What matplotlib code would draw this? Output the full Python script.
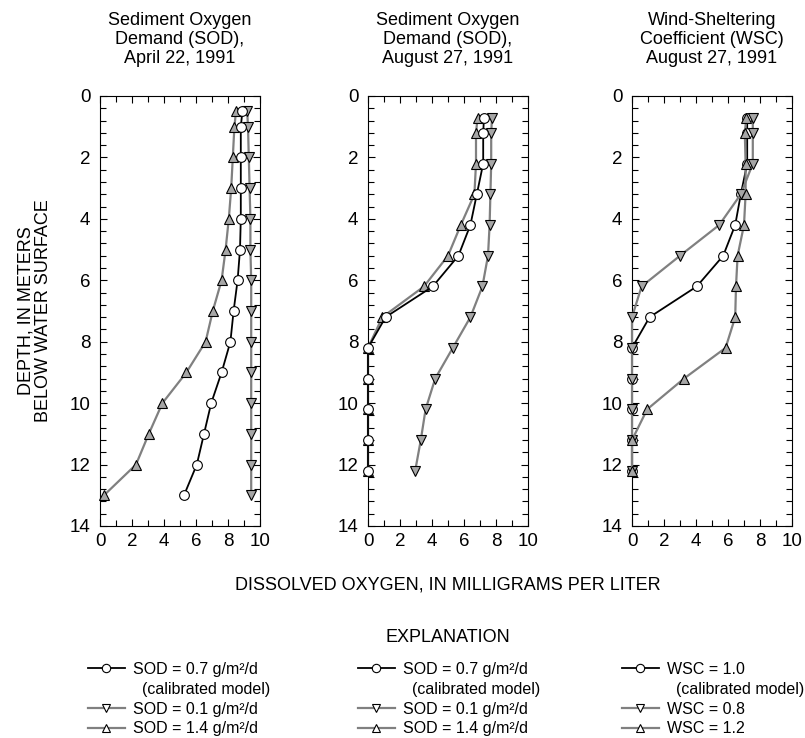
import matplotlib
matplotlib.use('Agg')
import matplotlib.pyplot as plt
from matplotlib.lines import Line2D
from matplotlib.ticker import MultipleLocator

plt.rcParams['font.family'] = ['Liberation Sans', 'DejaVu Sans']

# Depths (m below water surface)
depth_apr = [0.5, 1, 2, 3, 4, 5, 6, 7, 8, 9, 10, 11, 12, 13]
depth_aug = [0.7, 1.2, 2.2, 3.2, 4.2, 5.2, 6.2, 7.2, 8.2, 9.2, 10.2, 11.2, 12.2]

# April 22, 1991 - SOD runs (dissolved oxygen, mg/L)
apr_sod_07 = [8.9, 8.8, 8.8, 8.8, 8.8, 8.75, 8.6, 8.35, 8.15, 7.6, 6.95, 6.5, 6.05, 5.25]
apr_sod_01 = [9.2, 9.25, 9.3, 9.35, 9.4, 9.4, 9.45, 9.45, 9.45, 9.45, 9.45, 9.45, 9.45, 9.45]
apr_sod_14 = [8.5, 8.4, 8.3, 8.2, 8.05, 7.85, 7.6, 7.05, 6.6, 5.4, 3.9, 3.05, 2.25, 0.25]

# August 27, 1991 - SOD runs
aug_sod_07 = [7.25, 7.2, 7.2, 6.8, 6.4, 5.65, 4.05, 1.1, 0, 0, 0, 0, 0]
aug_sod_01 = [7.75, 7.7, 7.7, 7.65, 7.6, 7.5, 7.15, 6.4, 5.3, 4.2, 3.6, 3.3, 2.95]
aug_sod_14 = [6.85, 6.75, 6.75, 6.65, 5.8, 5.0, 3.5, 0.9, 0, 0, 0, 0, 0]

# August 27, 1991 - wind-sheltering coefficient runs
aug_wsc_10 = [7.2, 7.2, 7.2, 6.8, 6.45, 5.7, 4.05, 1.1, 0, 0, 0, 0, 0]
aug_wsc_08 = [7.55, 7.55, 7.55, 6.8, 5.45, 3.0, 0.6, 0, 0, 0, 0, 0, 0]
aug_wsc_12 = [7.15, 7.05, 7.1, 7.1, 7.0, 6.6, 6.5, 6.45, 5.85, 3.25, 0.95, 0, 0]

titles = ['Sediment Oxygen\nDemand (SOD),\nApril 22, 1991',
          'Sediment Oxygen\nDemand (SOD),\nAugust 27, 1991',
          'Wind-Sheltering\nCoefficient (WSC)\nAugust 27, 1991']

panels = [
    (depth_apr, apr_sod_07, apr_sod_01, apr_sod_14),
    (depth_aug, aug_sod_07, aug_sod_01, aug_sod_14),
    (depth_aug, aug_wsc_10, aug_wsc_08, aug_wsc_12),
]

legend_labels = [
    ['SOD = 0.7 g/m²/d', '  (calibrated model)', 'SOD = 0.1 g/m²/d', 'SOD = 1.4 g/m²/d'],
    ['SOD = 0.7 g/m²/d', '  (calibrated model)', 'SOD = 0.1 g/m²/d', 'SOD = 1.4 g/m²/d'],
    ['WSC = 1.0', '  (calibrated model)', 'WSC = 0.8', 'WSC = 1.2'],
]

GRAY = '#808080'
FILL = '#a6a6a6'

fig = plt.figure(figsize=(8.05, 7.38), dpi=100)

lefts = [100, 368, 632]
for i, (left, (depth, cal, low, high)) in enumerate(zip(lefts, panels)):
    ax = fig.add_axes([left / 805, 1 - 526 / 738, 160 / 805, 430 / 738])

    # calibrated run sits under the triangles in the WSC panel
    cal_z = 2 if i == 2 else 4
    ax.plot(low, depth, color=GRAY, lw=1.6, marker='v', ms=7, mfc=FILL, mec='black',
            mew=0.8, clip_on=False, zorder=3)
    ax.plot(high, depth, color=GRAY, lw=1.6, marker='^', ms=7, mfc=FILL, mec='black',
            mew=0.8, clip_on=False, zorder=3)
    ax.plot(cal, depth, color='black', lw=1.3, marker='o', ms=7, mfc='white', mec='black',
            mew=0.8, clip_on=False, zorder=cal_z)

    ax.set_xlim(0, 10)
    ax.set_ylim(14, 0)
    ax.xaxis.set_major_locator(MultipleLocator(2))
    ax.xaxis.set_minor_locator(MultipleLocator(1))
    ax.yaxis.set_major_locator(MultipleLocator(2))
    ax.yaxis.set_minor_locator(MultipleLocator(0.4))
    ax.tick_params(which='both', direction='in', top=True, right=True, width=0.8,
                   labelsize=13.5)
    ax.tick_params(axis='y', pad=7)
    ax.tick_params(axis='x', pad=5)
    ax.tick_params(which='major', length=5)
    ax.tick_params(which='minor', length=4)
    for s in ax.spines.values():
        s.set_linewidth(0.8)
    ax.set_title(titles[i], fontsize=13, linespacing=1.15, pad=24)

    # legend for this panel
    handles = [
        Line2D([], [], color='black', lw=1.3, marker='o', ms=6, mfc='white', mec='black', mew=0.8),
        Line2D([], [], linestyle='none'),
        Line2D([], [], color=GRAY, lw=1.6, marker='v', ms=6, mfc='white', mec='black', mew=0.8),
        Line2D([], [], color=GRAY, lw=1.6, marker='^', ms=6, mfc='white', mec='black', mew=0.8),
    ]
    leg_x = [88, 358, 622][i]
    fig.legend(handles, legend_labels[i], loc='upper left',
               bbox_to_anchor=(leg_x / 805, 1 - 662 / 738), frameon=False,
               fontsize=11.5, handlelength=2.3, handletextpad=0.5, labelspacing=0.3,
               borderpad=0, borderaxespad=0)

fig.text(35 / 805, 1 - 311 / 738, 'DEPTH, IN METERS\nBELOW WATER SURFACE', rotation=90,
         ha='center', va='center', fontsize=13, multialignment='center', linespacing=1.05)
fig.text(448 / 805, 1 - 585 / 738, 'DISSOLVED OXYGEN, IN MILLIGRAMS PER LITER',
         ha='center', va='center', fontsize=13)
fig.text(448 / 805, 1 - 637 / 738, 'EXPLANATION', ha='center', va='center', fontsize=13)

plt.savefig('out.png', dpi=100)
